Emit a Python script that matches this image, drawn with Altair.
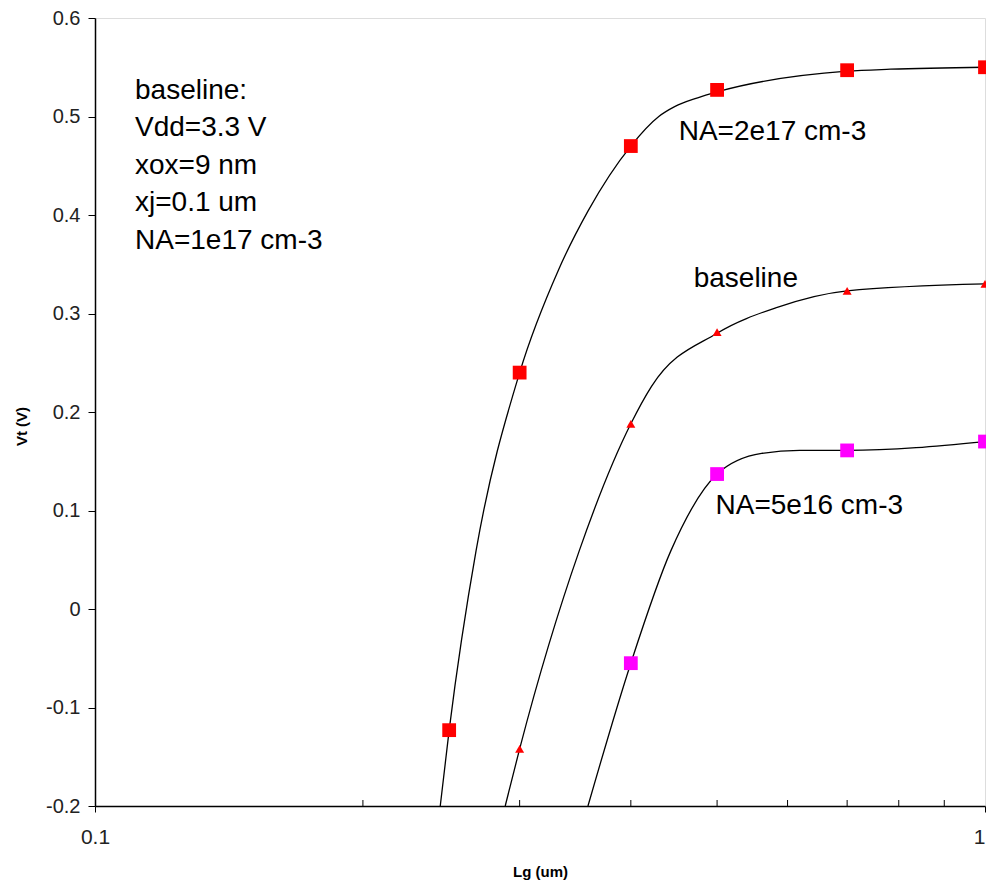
import altair as alt
import pandas as pd

# ---- marker data ----
lg_na2e17 = [0.25, 0.3, 0.4, 0.5, 0.7, 1.0]
vt_na2e17 = [-0.123, 0.240, 0.470, 0.527, 0.547, 0.550]

lg_base = [0.3, 0.4, 0.5, 0.7, 1.0]
vt_base = [-0.142, 0.188, 0.281, 0.323, 0.330]

lg_na5e16 = [0.4, 0.5, 0.7, 1.0]
vt_na5e16 = [-0.055, 0.137, 0.161, 0.170]

# ---- smooth curve points ----
curve_na2e17_x = [0.2443, 0.25, 0.268, 0.3, 0.332, 0.358, 0.4, 0.43, 0.448, 0.4755, 0.5, 0.7, 0.783, 1.0]
curve_na2e17_y = [-0.200, -0.123, 0.059, 0.240, 0.345, 0.404, 0.470, 0.500, 0.510, 0.519, 0.525, 0.546, 0.548, 0.550]

curve_base_x = [0.289, 0.3, 0.350, 0.4, 0.422, 0.5, 0.583, 0.7, 1.0]
curve_base_y = [-0.200, -0.142, 0.059, 0.188, 0.226, 0.280, 0.306, 0.323, 0.330]

curve_na5e16_x = [0.358, 0.4, 0.4436, 0.5, 0.561, 0.619, 0.7, 1.0]
curve_na5e16_y = [-0.200, -0.055, 0.059, 0.137, 0.158, 0.161, 0.161, 0.170]

# ---- axis ticks ----
y_ticks = [-0.2, -0.1, 0.0, 0.1, 0.2, 0.3, 0.4, 0.5, 0.6]
x_major = [0.1, 1.0]
x_minor = [0.2, 0.3, 0.4, 0.5, 0.6, 0.7, 0.8, 0.9]

# ---- annotations ----
info_lines = ["baseline:", "Vdd=3.3 V", "xox=9 nm", "xj=0.1 um", "NA=1e17 cm-3"]
info_x = [0.1109] * 5
info_y = [0.526, 0.488, 0.450, 0.412, 0.374]

label_text = ["NA=2e17 cm-3", "baseline", "NA=5e16 cm-3"]
label_x = [0.4527, 0.4706, 0.498]
label_y = [0.484, 0.335, 0.105]

W, H = 890, 788
FONT = "Liberation Sans"

curves = pd.concat([
    pd.DataFrame({"lg": curve_na2e17_x, "vt": curve_na2e17_y, "s": "na2e17", "o": range(len(curve_na2e17_x))}),
    pd.DataFrame({"lg": curve_base_x, "vt": curve_base_y, "s": "base", "o": range(len(curve_base_x))}),
    pd.DataFrame({"lg": curve_na5e16_x, "vt": curve_na5e16_y, "s": "na5e16", "o": range(len(curve_na5e16_x))}),
])

sq_red = pd.DataFrame({"lg": lg_na2e17, "vt": vt_na2e17})
tri = pd.DataFrame({"lg": lg_base, "vt": vt_base})
sq_mag = pd.DataFrame({"lg": lg_na5e16, "vt": vt_na5e16})

xscale = alt.Scale(type="log", domain=[0.1, 1.0], nice=False)
yscale = alt.Scale(domain=[-0.2, 0.6], nice=False, zero=False)

xax = alt.Axis(
    values=x_major, labelExpr="toString(datum.value)", grid=False, labelFlush=False,
    labelAlign=alt.ExprRef("datum.value >= 1 ? 'right' : 'center'"),
    tickSize=6, tickColor="black", domainColor="black", domainWidth=1.5,
    labelFont=FONT, labelFontSize=21, labelColor="#222", labelPadding=14,
    title="Lg (um)", titleFont=FONT, titleFontSize=15, titleFontWeight="bold",
    titleX=W / 2, titleY=65, titleBaseline="middle", titleAlign="center",
)
yax = alt.Axis(
    values=y_ticks,
    labelExpr="datum.value == 0 ? '0' : toString(round(datum.value * 10) / 10)",
    grid=False, tickSize=7, tickColor="black", domainColor="black", domainWidth=1.5,
    labelFont=FONT, labelFontSize=20, labelColor="#222", labelPadding=8, labelFlush=False,
    title="Vt (V)", titleFont=FONT, titleFontSize=15, titleFontWeight="bold",
    titleX=-74, titleY=H / 2 + 14, titleAngle=-90, titleBaseline="middle", titleAlign="center",
)

X = alt.X("lg:Q", scale=xscale, axis=xax)
Y = alt.Y("vt:Q", scale=yscale, axis=yax)

lines = alt.Chart(curves).mark_line(
    interpolate="monotone", color="black", strokeWidth=1.3
).encode(x=X, y=Y, detail="s:N", order="o:Q")

red_pts = alt.Chart(sq_red).mark_point(
    shape="square", filled=True, size=190, color="#FF0000", opacity=1
).encode(x="lg:Q", y="vt:Q")

tri_pts = alt.Chart(tri).mark_point(
    shape="triangle-up", filled=True, size=80, color="#FF0000", opacity=1
).encode(x="lg:Q", y="vt:Q")

mag_pts = alt.Chart(sq_mag).mark_point(
    shape="square", filled=True, size=190, color="#FF00FF", opacity=1
).encode(x="lg:Q", y="vt:Q")

minor = alt.Chart(pd.DataFrame({"lg": x_minor})).mark_rule(
    color="black", strokeWidth=1
).encode(x="lg:Q", y=alt.value(H - 6), y2=alt.value(H))

info = alt.Chart(pd.DataFrame({"lg": info_x, "vt": info_y, "t": info_lines})).mark_text(
    align="left", baseline="middle", font=FONT, fontSize=28, color="black"
).encode(x="lg:Q", y="vt:Q", text="t:N")

labels = alt.Chart(pd.DataFrame({"lg": label_x, "vt": label_y, "t": label_text})).mark_text(
    align="left", baseline="middle", font=FONT, fontSize=28, color="black"
).encode(x="lg:Q", y="vt:Q", text="t:N")

chart = alt.layer(lines, minor, red_pts, tri_pts, mag_pts, info, labels).properties(
    width=W, height=H,
    autosize=alt.AutoSizeParams(type="none"),
    padding={"left": 87, "top": 10, "right": 1, "bottom": 76},
).configure_view(stroke="#888888", strokeWidth=1.2).configure(background="white")

chart.save("out.html", embed_options={"renderer": "svg", "actions": False})
